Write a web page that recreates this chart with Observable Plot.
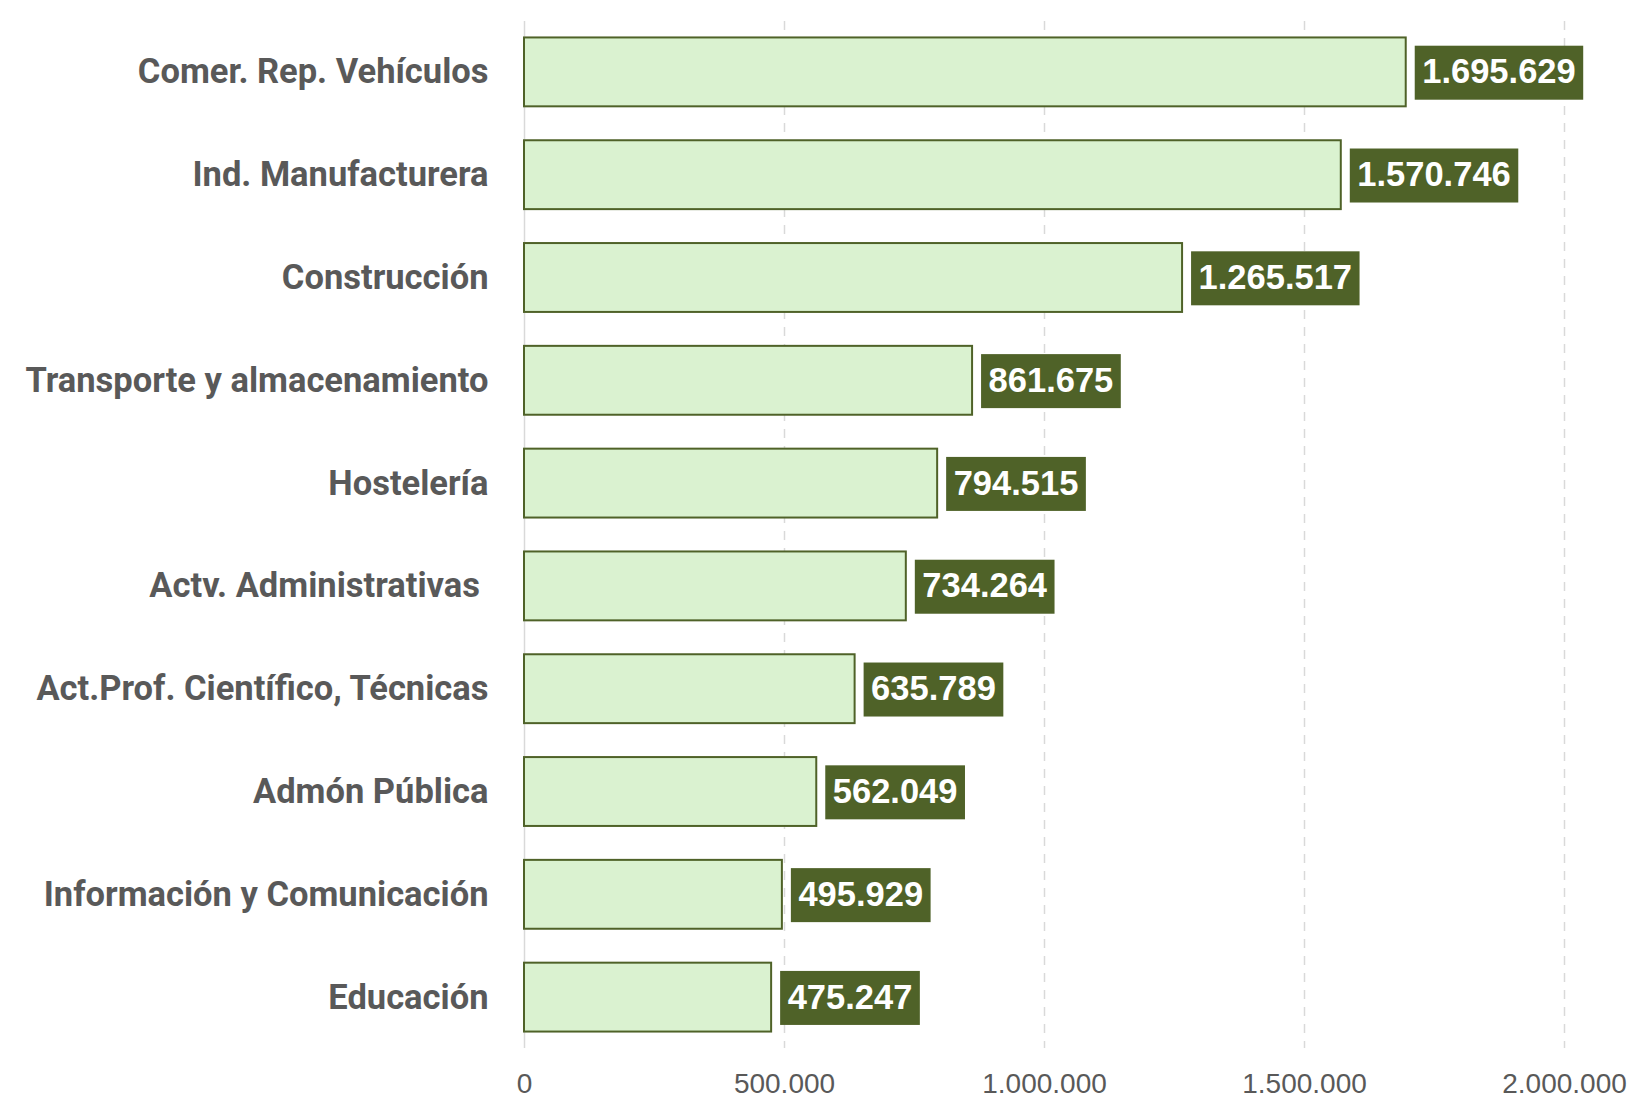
<!DOCTYPE html>
<html>
<head>
<meta charset="utf-8">
<script src="https://cdn.jsdelivr.net/npm/d3@7"></script>
<script src="https://cdn.jsdelivr.net/npm/@observablehq/plot@0.6"></script>
<style>
  html, body { margin: 0; padding: 0; background: #ffffff; }
  #chart svg { display: block; }
</style>
</head>
<body>
<div id="chart"></div>
<script>
// ---- Data ----
const sectores = [
  "Comer. Rep. Vehículos",
  "Ind. Manufacturera",
  "Construcción",
  "Transporte y almacenamiento",
  "Hostelería",
  "Actv. Administrativas\u00a0",
  "Act.Prof. Científico, Técnicas",
  "Admón Pública",
  "Información y Comunicación",
  "Educación"
];
const afiliados = [1695629, 1570746, 1265517, 861675, 794515, 734264, 635789, 562049, 495929, 475247];
const xTicks = [0, 500000, 1000000, 1500000, 2000000];

const data = sectores.map((s, i) => ({ sector: s, valor: afiliados[i] }));

const es = d3.formatLocale({ decimal: ",", thousands: ".", grouping: [3], currency: ["", " €"] });
const fmt = es.format(",d");

const chart = Plot.plot({
  width: 1638,
  height: 1100,
  marginLeft: 524,
  marginRight: 74,
  marginTop: 21,
  marginBottom: 52,
  style: { background: "#ffffff", fontFamily: "'Liberation Sans', Arial, sans-serif" },
  x: { domain: [0, 2000000], ticks: xTicks, tickFormat: fmt, label: null },
  y: { domain: sectores, paddingInner: 0.33, paddingOuter: 0.16, round: false, label: null },
  marks: [
    Plot.gridX(xTicks.filter(d => d > 0), { stroke: "#d9d9d9", strokeOpacity: 1, strokeWidth: 1.5, strokeDasharray: "9,8" }),
    Plot.ruleX([0], { stroke: "#d9d9d9", strokeWidth: 1.5 }),
    Plot.barX(data, { x: "valor", y: "sector", fill: "#daf2d0", stroke: "#4f6228", strokeWidth: 2 }),
    Plot.text(data, {
      x: "valor", y: "sector", text: d => fmt(d.valor),
      dx: 16, textAnchor: "start", fill: "#ffffff", fontWeight: "bold", fontSize: 34.5,
      fontFamily: "'Liberation Sans', Arial, sans-serif", className: "vlabel"
    }),
    Plot.axisX({
      ticks: xTicks, tickFormat: fmt, tickSize: 0, tickPadding: 25, fontSize: 28,
      fill: "#595959", fontFamily: "'Liberation Sans', Arial, sans-serif", label: null
    }),
    Plot.axisY({
      tickSize: 0, tickPadding: 36, fontSize: 34.5, fontWeight: "bold",
      fill: "#595959", fontFamily: "Roboto, 'Noto Sans', sans-serif", label: null
    })
  ]
});

document.getElementById("chart").appendChild(chart);

// Dark green boxes behind value labels, sized to each label's text
const NS = "http://www.w3.org/2000/svg";
chart.querySelectorAll("g.vlabel text").forEach(t => {
  const b = t.getBBox();
  const cy = parseFloat(t.getAttribute("y") || 0);
  const r = document.createElementNS(NS, "rect");
  r.setAttribute("x", b.x - 7.5);
  r.setAttribute("width", b.width + 15);
  r.setAttribute("y", cy - 27);
  r.setAttribute("height", 54);
  r.setAttribute("fill", "#4f6228");
  const tr = t.getAttribute("transform");
  if (tr) r.setAttribute("transform", tr);
  t.parentNode.insertBefore(r, t);
});
</script>
</body>
</html>
